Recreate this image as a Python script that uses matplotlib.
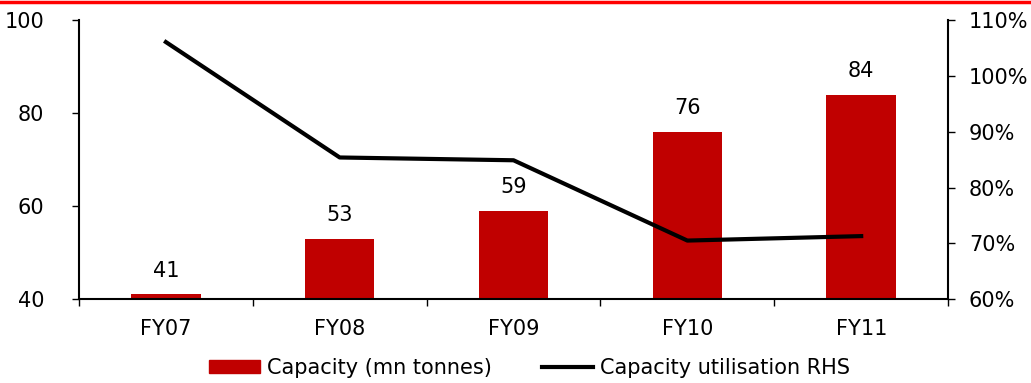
import matplotlib.pyplot as plt
from matplotlib.lines import Line2D
from matplotlib.patches import Patch
from matplotlib.ticker import FuncFormatter

years = ['FY07', 'FY08', 'FY09', 'FY10', 'FY11']
capacity = [41, 53, 59, 76, 84]
utilisation = [106.1, 85.4, 84.9, 70.5, 71.3]

plt.rcParams['font.family'] = ['DejaVu Sans']
plt.rcParams['font.size'] = 15

red = '#c00000'

fig = plt.figure(figsize=(10.31, 3.83), dpi=100)
ax = fig.add_axes([0.0766, 0.219, 0.843, 0.728])

x = range(len(years))
ax.bar(x, capacity, width=0.4, color=red, zorder=2)
for i, v in enumerate(capacity):
    ax.text(i, v + 3.0, str(v), ha='center', va='bottom', fontsize=15)

ax.set_ylim(40, 100)
ax.set_yticks([40, 60, 80, 100])
ax.set_xlim(-0.5, len(years) - 0.5)
ax.set_xticks(list(x))
ax.set_xticklabels(years)
ax.tick_params(axis='x', length=0, pad=14)
# category separators on the x axis
ax.set_xticks([i - 0.5 for i in range(len(years) + 1)], minor=True)
ax.tick_params(axis='x', which='minor', length=5, direction='out', width=1)
ax.tick_params(axis='y', length=5, direction='out', width=1, pad=20)
for s in ['top', 'right']:
    ax.spines[s].set_visible(False)
for s in ['left', 'bottom']:
    ax.spines[s].set_linewidth(1.5)

ax2 = ax.twinx()
ax2.plot(x, utilisation, color='black', lw=3, zorder=3)
ax2.set_ylim(60, 110)
ax2.set_yticks([60, 70, 80, 90, 100, 110])
ax2.yaxis.set_major_formatter(FuncFormatter(lambda v, p: f'{v:.0f}%'))
ax2.tick_params(axis='y', length=5, direction='out', width=1, pad=10)
for s in ['top', 'left', 'bottom']:
    ax2.spines[s].set_visible(False)
ax2.spines['right'].set_linewidth(1.5)

handles = [Patch(color=red), Line2D([], [], color='black', lw=3)]
fig.legend(handles, ['Capacity (mn tonnes)', 'Capacity utilisation RHS'],
           loc='lower center', bbox_to_anchor=(0.514, -0.035), ncol=2,
           frameon=False, fontsize=15, handlelength=2.45, handleheight=0.58,
           columnspacing=2.4, handletextpad=0.34)

# red rule across the top
fig.add_artist(Line2D([0, 1], [0.994, 0.994], color='#ff0000', lw=2.5,
                      transform=fig.transFigure))

fig.savefig('out.png', dpi=100)
